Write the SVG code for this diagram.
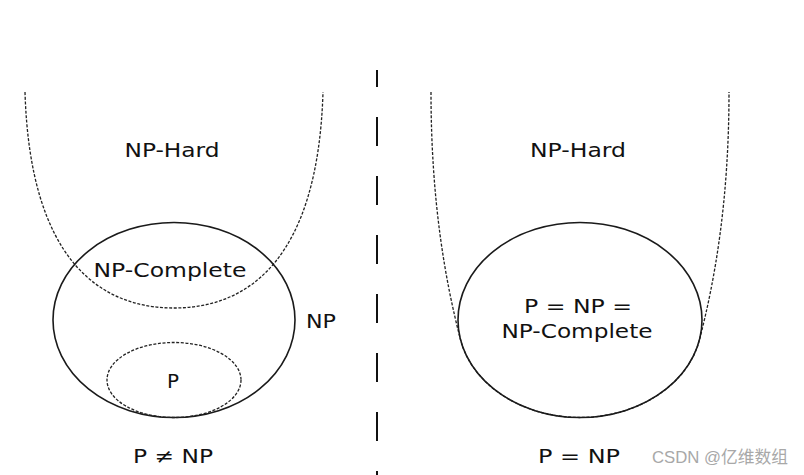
<svg xmlns="http://www.w3.org/2000/svg" width="804" height="475" viewBox="0 0 804 475">
<style>
.t{font-family:"DejaVu Sans","Noto Sans",sans-serif;font-size:20px;fill:#111;text-anchor:middle}
.solid{fill:none;stroke:#1a1a1a;stroke-width:1.6}
.dash{fill:none;stroke:#222;stroke-width:1.3;stroke-dasharray:3 1.6}
.wm{font-family:"Liberation Sans","Noto Sans CJK SC",sans-serif;font-size:17px;fill:#a8a8a8}
</style>
<rect width="804" height="475" fill="#fff"/>
<g id="divider">
<line x1="377" y1="70" x2="377" y2="475" stroke="#111" stroke-width="2" stroke-dasharray="29 30" stroke-dashoffset="12"/>
</g>
<g id="left">
<g id="np-hard-left">
<path class="dash" d="M25,92 C30,260 100,308 174,308 C248,308 318,260 323,92"/>
<text class="t" x="172" y="157" textLength="95" lengthAdjust="spacingAndGlyphs">NP-Hard</text>
</g>
<g id="np-left">
<ellipse class="solid" cx="174" cy="320" rx="121" ry="97.5"/>
<text class="t" x="321" y="328" textLength="30" lengthAdjust="spacingAndGlyphs">NP</text>
</g>
<g id="npc-left">
<text class="t" x="170" y="277" textLength="153" lengthAdjust="spacingAndGlyphs">NP-Complete</text>
</g>
<g id="p-left">
<ellipse class="dash" cx="174" cy="380" rx="67" ry="37.5"/>
<text class="t" x="173" y="388" textLength="12" lengthAdjust="spacingAndGlyphs">P</text>
</g>
<text class="t" x="173" y="463" textLength="80" lengthAdjust="spacingAndGlyphs">P ≠ NP</text>
</g>
<g id="right">
<g id="np-hard-right">
<path class="dash" d="M431,92 C431,200 445,280 460.6,340 A122,97.5 0 0 0 699.4,340 C715,280 729,200 729,92"/>
<text class="t" x="578" y="157" textLength="96" lengthAdjust="spacingAndGlyphs">NP-Hard</text>
</g>
<g id="p-np-npc">
<ellipse class="solid" cx="580" cy="320" rx="122" ry="97.5"/>
<text class="t" x="578" y="313" textLength="108" lengthAdjust="spacingAndGlyphs">P = NP =</text>
<text class="t" x="577" y="338" textLength="151" lengthAdjust="spacingAndGlyphs">NP-Complete</text>
</g>
<text class="t" x="579" y="463" textLength="82" lengthAdjust="spacingAndGlyphs">P = NP</text>
</g>
<text class="wm" x="652" y="463" textLength="136" lengthAdjust="spacingAndGlyphs">CSDN @亿维数组</text>
</svg>
